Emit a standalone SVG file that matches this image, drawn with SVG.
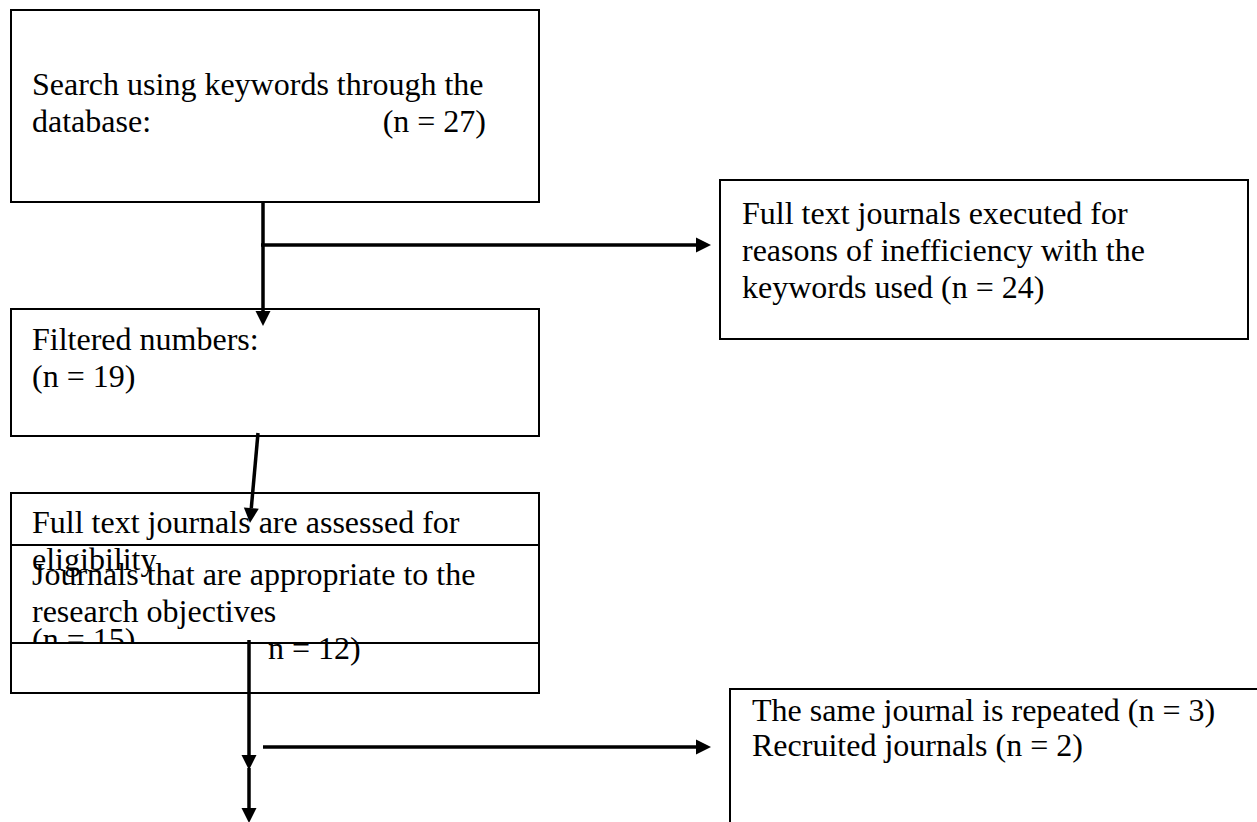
<svg xmlns="http://www.w3.org/2000/svg" width="1257" height="822" viewBox="0 0 1257 822">
<style>
.box{fill:none;stroke:#000;stroke-width:2}
.t{font-family:"Liberation Serif","Times New Roman",serif;font-size:32px;fill:#000}
.c{stroke:#000;stroke-width:3.5;fill:none;marker-end:url(#ah)}
</style>
<defs>
<marker id="ah" markerUnits="userSpaceOnUse" markerWidth="16" markerHeight="16" refX="0" refY="7.5" orient="auto" overflow="visible">
<path d="M0,0 L15,7.5 L0,15 z" fill="#000"/>
</marker>
<clipPath id="clipA"><rect x="11" y="493" width="528" height="150"/></clipPath>
</defs>
<rect width="1257" height="822" fill="#fff"/>
<g id="node-search">
<rect class="box" x="11" y="10" width="528" height="192"/>
<text class="t" x="32" y="95">Search using keywords through the</text>
<text class="t" x="32" y="132">database:</text>
<text class="t" x="486" y="132" text-anchor="end">(n = 27)</text>
</g>
<g id="node-filtered">
<rect class="box" x="11" y="309" width="528" height="127"/>
<text class="t" x="32" y="350">Filtered numbers:</text>
<text class="t" x="32" y="387">(n = 19)</text>
</g>
<g id="node-excluded1">
<rect class="box" x="720" y="180" width="528" height="159"/>
<text class="t" x="742" y="224">Full text journals executed for</text>
<text class="t" x="742" y="261">reasons of inefficiency with the</text>
<text class="t" x="742" y="298">keywords used (n = 24)</text>
</g>
<g id="node-eligibility">
<rect class="box" x="11" y="493" width="528" height="150"/>
<g clip-path="url(#clipA)">
<text class="t" x="32" y="533">Full text journals are assessed for</text>
<text class="t" x="32" y="570">eligibility</text>
<text class="t" x="32" y="650">(n = 15)</text>
</g>
</g>
<g id="node-appropriate">
<rect class="box" x="11" y="545" width="528" height="148"/>
<text class="t" x="32" y="585">Journals that are appropriate to the</text>
<text class="t" x="32" y="622">research objectives</text>
<text class="t" x="268" y="659">n = 12)</text>
</g>
<g id="node-excluded2">
<rect class="box" x="730" y="689" width="600" height="200"/>
<text class="t" x="752" y="721">The same journal is repeated (n = 3)</text>
<text class="t" x="752" y="756">Recruited journals (n = 2)</text>
</g>
<g id="connectors">
<line class="c" x1="263" y1="202" x2="263" y2="311"/>
<line class="c" x1="261" y1="245" x2="696" y2="245"/>
<line class="c" x1="258" y1="433" x2="251.3" y2="508.1"/>
<line class="c" x1="249" y1="640" x2="249" y2="755"/>
<line class="c" x1="249" y1="768" x2="249" y2="808"/>
<line class="c" x1="263" y1="747" x2="696" y2="747"/>
</g>
</svg>
